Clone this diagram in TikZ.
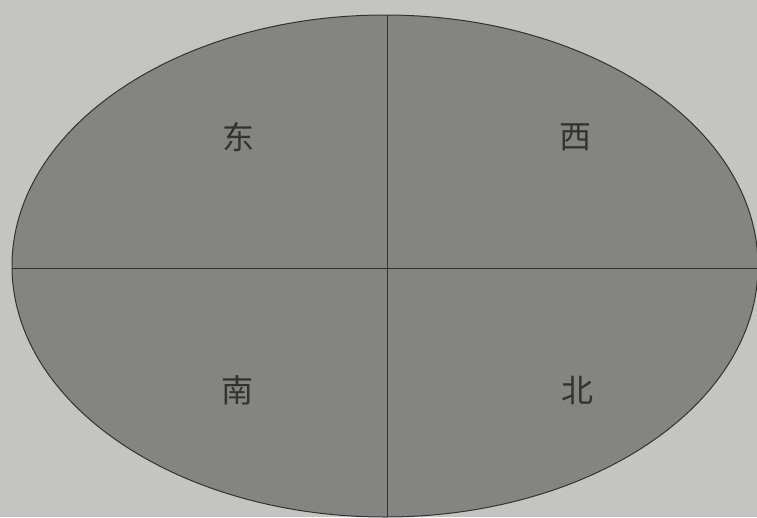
\documentclass[tikz,border=0pt]{standalone}
\usepackage{fontspec}
\newfontfamily\cjk{Noto Sans CJK SC}
\definecolor{bgpaper}{RGB}{196,196,194}
\definecolor{ellfill}{RGB}{132,132,131}
\definecolor{inkline}{RGB}{50,50,50}
\tikzset{
  dirlabel/.style={font=\cjk\fontsize{32}{34}\selectfont, text=inkline},
  axisline/.style={draw=inkline, line width=1pt}
}
\begin{document}
\begin{tikzpicture}[x=1pt,y=-1pt]
  \fill[bgpaper] (0,0) rectangle (757,517);
  \useasboundingbox (0,0) rectangle (757,517);
  \coordinate (c) at (385,266);
  \fill[ellfill, draw=inkline, line width=1pt] (c) ellipse [x radius=373, y radius=251];
  \coordinate (top) at (387,15);
  \coordinate (bot) at (387,517);
  \coordinate (lft) at (12,268);
  \coordinate (rgt) at (757,268);
  \draw[axisline] (top) -- (bot);
  \draw[axisline] (lft) -- (rgt);
  \node[dirlabel] (dong) at (238,137) {东};
  \node[dirlabel] (xi) at (575,137) {西};
  \node[dirlabel] (nan) at (237,390) {南};
  \node[dirlabel] (bei) at (577,390) {北};
\end{tikzpicture}
\end{document}
